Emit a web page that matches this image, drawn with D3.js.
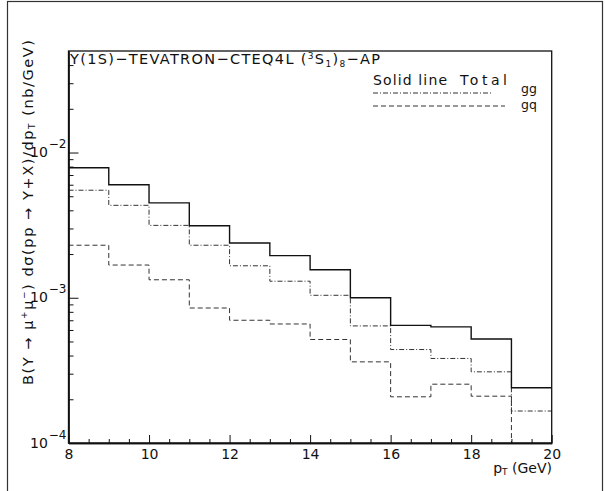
<!DOCTYPE html>
<html><head><meta charset="utf-8">
<script src="https://cdn.jsdelivr.net/npm/d3@7"></script>
<style>
body{margin:0;background:#fff;}
svg{display:block;}
text{font-family:"DejaVu Sans",sans-serif;fill:#111;}
</style>
</head><body>
<svg id="c" width="605" height="491"></svg>
<script>
// ---- data ----
const binEdges = [8,9,10,11,12,13,14,15,16,17,18,19,20];
const totalVals = [7.85e-3, 6.0e-3, 4.5e-3, 3.13e-3, 2.38e-3, 1.95e-3, 1.56e-3, 1.0e-3, 6.45e-4, 6.3e-4, 5.2e-4, 2.4e-4];
const ggVals    = [5.5e-3, 4.33e-3, 3.15e-3, 2.3e-3, 1.66e-3, 1.3e-3, 1.04e-3, 6.4e-4, 4.4e-4, 3.82e-4, 3.09e-4, 1.66e-4];
const gqVals    = [2.3e-3, 1.68e-3, 1.33e-3, 8.5e-4, 7.0e-4, 6.6e-4, 5.16e-4, 3.62e-4, 2.08e-4, 2.54e-4, 2.1e-4, 7.5e-5];
const xMajorTicks = [8,10,12,14,16,18,20];
const xMinorTicks = [8.5,9,9.5,10.5,11,11.5,12.5,13,13.5,14.5,15,15.5,16.5,17,17.5,18.5,19,19.5];
const yMajorTicks = [1e-4,1e-3,1e-2];
const yMinorMantissas = [2,3,4,5,6,7,8,9];
const titleText = "Υ(1S)−TEVATRON−CTEQ4L";
const legendHeader = ["Solid line","Total"];
const legendLabels = ["gg","gq"];

const svg = d3.select("#c");
const L = 68.5, R = 551.7, T = 51, B = 443;
const x = d3.scaleLinear().domain([8,20]).range([L,R]);
const y = d3.scaleLog().domain([1e-4,0.05]).range([B,T]);

// outer frame
svg.append("rect").attr("x",7.5).attr("y",1.5).attr("width",595).attr("height",520)
  .attr("fill","none").attr("stroke","#333").attr("stroke-width",1.2);

svg.append("clipPath").attr("id","clip").append("rect")
  .attr("x",L).attr("y",T).attr("width",R-L).attr("height",B-T);

function histPath(vals){
  const pts = [];
  vals.forEach((v,i)=>{ pts.push([binEdges[i],v]); pts.push([binEdges[i+1],v]); });
  return d3.line().x(d=>x(d[0])).y(d=>y(d[1]))(pts);
}
const plot = svg.append("g").attr("clip-path","url(#clip)");
plot.append("path").attr("d",histPath(ggVals)).attr("fill","none")
  .attr("stroke","#333").attr("stroke-width",1).attr("stroke-dasharray","5,2,1,2");
plot.append("path").attr("d",histPath(gqVals)).attr("fill","none")
  .attr("stroke","#333").attr("stroke-width",1).attr("stroke-dasharray","5,3");
plot.append("path").attr("d",histPath(totalVals)).attr("fill","none")
  .attr("stroke","#111").attr("stroke-width",1.4);

// frame
svg.append("rect").attr("x",L).attr("y",T).attr("width",R-L).attr("height",B-T)
  .attr("fill","none").attr("stroke","#111").attr("stroke-width",1.3);

// x axis
const gx = svg.append("g").attr("transform",`translate(0,${B})`);
gx.call(d3.axisBottom(x).tickValues(xMajorTicks).tickSize(-8).tickSizeOuter(0).tickPadding(4).tickFormat(d3.format("d")));
const gx2 = svg.append("g").attr("transform",`translate(0,${B})`);
gx2.call(d3.axisBottom(x).tickValues(xMinorTicks).tickSize(-4).tickSizeOuter(0).tickFormat(""));
[gx,gx2].forEach(g=>{g.select(".domain").attr("stroke","#111").attr("stroke-width",1.3);
  g.selectAll(".tick line").attr("stroke","#111");});
gx.selectAll(".tick text").attr("font-size",14).attr("fill","#111").attr("dy","0.85em");

// y axis
const yMinor = [];
[1e-4,1e-3,1e-2].forEach(dec=>yMinorMantissas.forEach(mm=>{const v=mm*dec; if(v<0.05) yMinor.push(v);}));
const gy = svg.append("g").attr("transform",`translate(${L},0)`);
gy.call(d3.axisLeft(y).tickValues(yMajorTicks).tickSize(-10).tickSizeOuter(0).tickPadding(2).tickFormat(()=>""));
const gy2 = svg.append("g").attr("transform",`translate(${L},0)`);
gy2.call(d3.axisLeft(y).tickValues(yMinor).tickSize(-5).tickSizeOuter(0).tickFormat(""));
[gy,gy2].forEach(g=>{g.select(".domain").attr("stroke","#111").attr("stroke-width",1.3);
  g.selectAll(".tick line").attr("stroke","#111");});
gy.selectAll(".tick text").each(function(d){
  const t = d3.select(this).attr("font-size",14).attr("fill","#111").attr("dy","0.3em");
  t.append("tspan").text("10");
  t.append("tspan").attr("font-size",12).attr("dy",-9).attr("dx",1).text("−"+(-Math.round(Math.log10(d))));
});

// title
const tt = svg.append("text").attr("x",70).attr("y",64).attr("font-size",14.5)
  .attr("textLength",310).attr("lengthAdjust","spacing");
tt.append("tspan").text(titleText+" (");
tt.append("tspan").attr("font-size",9).attr("dy",-5).text("3");
tt.append("tspan").attr("dy",5).text("S");
tt.append("tspan").attr("font-size",9).attr("dy",3).text("1");
tt.append("tspan").attr("dy",-3).text(")");
tt.append("tspan").attr("font-size",9).attr("dy",3).text("8");
tt.append("tspan").attr("dy",-3).text("−AP");

// legend
svg.append("text").attr("x",373).attr("y",85).attr("font-size",14)
  .attr("textLength",74).attr("lengthAdjust","spacing").text(legendHeader[0]);
svg.append("text").attr("x",460).attr("y",85).attr("font-size",14)
  .attr("textLength",47).attr("lengthAdjust","spacing").text(legendHeader[1]);
svg.append("line").attr("x1",373).attr("x2",493).attr("y1",93).attr("y2",93)
  .attr("stroke","#333").attr("stroke-dasharray","5,2,1,2");
svg.append("line").attr("x1",373).attr("x2",505).attr("y1",106).attr("y2",106)
  .attr("stroke","#333").attr("stroke-dasharray","5,3");
svg.append("text").attr("x",521).attr("y",93).attr("font-size",12.5).text(legendLabels[0]);
svg.append("text").attr("x",521).attr("y",108.5).attr("font-size",12.5).text(legendLabels[1]);

// x title
const xt = svg.append("text").attr("x",552).attr("y",473).attr("font-size",14).attr("text-anchor","end");
xt.append("tspan").text("p");
xt.append("tspan").attr("font-size",9).attr("dy",2).text("T");
xt.append("tspan").attr("dy",-2).text(" (GeV)");

// y title
const yt = svg.append("text").attr("transform","translate(33,385) rotate(-90)").attr("font-size",14.5)
  .attr("textLength",345).attr("lengthAdjust","spacing");
yt.append("tspan").text("B(Υ → μ");
yt.append("tspan").attr("font-size",9).attr("dy",-6).text("+");
yt.append("tspan").attr("dy",6).text("μ");
yt.append("tspan").attr("font-size",9).attr("dy",-6).text("−");
yt.append("tspan").attr("dy",6).text(") dσ(pp → Υ+X)/dp");
yt.append("tspan").attr("font-size",9).attr("dy",2).text("T");
yt.append("tspan").attr("dy",-2).text(" (nb/GeV)");
</script>
</body></html>
